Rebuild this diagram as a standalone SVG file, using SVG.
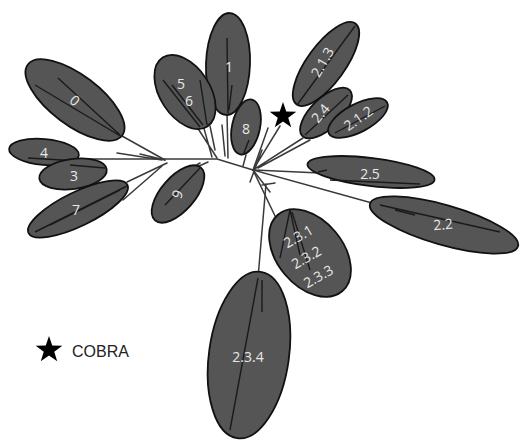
<svg xmlns="http://www.w3.org/2000/svg" width="522" height="441" viewBox="0 0 522 441">
<style>
.cl ellipse{fill:#555;stroke:#111;stroke-width:1.8}
.lf{stroke:#1a1a1a;stroke-width:1.4;fill:none}
.br{stroke:#3a3a3a;stroke-width:1.5;fill:none;stroke-linecap:round}
.lb{font-family:"Open Sans","Noto Sans",sans-serif;font-size:14px;fill:#e8e8e8;text-anchor:middle;dominant-baseline:central}
.lg{font-family:"Liberation Sans",Arial,sans-serif;font-size:16px;fill:#222}
</style>
<defs>
<path id="star" d="M0,-14 L3.23,-4.45 L13.31,-4.33 L5.23,1.7 L8.23,11.33 L0,5.5 L-8.23,11.33 L-5.23,1.7 L-13.31,-4.33 L-3.23,-4.45 Z" fill="#000"/>
</defs>
<rect width="522" height="441" fill="#fff"/>
<g id="connectors" class="br">
<path d="M80,159 L217,159 L253,170"/>
<path d="M165,160 L122,136"/>
<path d="M117,153 L162,160 M140,154 L165,160"/>
<path d="M167,163 L127,182 M162,166 L123,200"/>
<path d="M200,163 L167,183 M208,162 L197,167"/>
<path d="M217,158 L197,127 M212,157 L203,125 M215,150 L210,126"/>
<path d="M228,158 L227,113 M225,156 L222,125"/>
<path d="M243,166 L246,155"/>
<path d="M253,170 L268,128 M250,182 L262,150 M253,170 L280,126"/>
<path d="M253,170 L303,138 M258,168 L310,140"/>
<path d="M253,170 L320,173"/>
<path d="M253,170 L372,203"/>
<path d="M253,170 L270,192 M262,185 L275,183"/>
<path d="M253,170 L276,218"/>
<path d="M266,184 L258,278"/>
</g>
<g id="n0" class="cl"><ellipse cx="75" cy="100" rx="59" ry="25" transform="rotate(37 75 100)"/><path class="lf" d="M35,85 L122,137 M58,78 L120,135"/><text class="lb" x="75" y="100" transform="rotate(40 75 100)">0</text></g>
<g id="n1" class="cl"><ellipse cx="228" cy="64" rx="22" ry="51" transform="rotate(2 228 64)"/><path class="lf" d="M227,38 L228,113 M232,85 L229,110"/><text class="lb" x="229" y="66">1</text></g>
<g id="n56" class="cl"><ellipse cx="185" cy="92" rx="41" ry="25" transform="rotate(57 185 92)"/><path class="lf" d="M163,80 L200,127 M172,85 L203,125 M200,80 L207,125"/><text class="lb" x="181" y="83">5</text><text class="lb" x="189" y="100">6</text></g>
<g id="n8" class="cl"><ellipse cx="246" cy="127" rx="14" ry="28" transform="rotate(12 246 127)"/><path class="lf" d="M249,140 L243,155"/><text class="lb" x="246" y="128">8</text></g>
<g id="n4" class="cl"><ellipse cx="44" cy="152" rx="35" ry="13" transform="rotate(5 44 152)"/><path class="lf" d="M28,158 L78,161"/><text class="lb" x="44" y="152">4</text></g>
<g id="n3" class="cl"><ellipse cx="73" cy="174" rx="34" ry="15" transform="rotate(-8 73 174)"/><path class="lf" d="M70,165 L105,168"/><text class="lb" x="74" y="175">3</text></g>
<g id="n7" class="cl"><ellipse cx="78" cy="209" rx="55" ry="17" transform="rotate(-26 78 209)"/><path class="lf" d="M35,232 L127,186 M50,225 L120,190"/><text class="lb" x="76" y="209">7</text></g>
<g id="n9" class="cl"><ellipse cx="178" cy="194" rx="35" ry="17" transform="rotate(-49 178 194)"/><path class="lf" d="M165,205 L200,168"/><text class="lb" x="177" y="194" transform="rotate(-70 177 194)">9</text></g>
<g id="n213" class="cl"><ellipse cx="326" cy="64" rx="50" ry="19" transform="rotate(-54 326 64)"/><path class="lf" d="M297,105 L355,26"/><text class="lb" x="322" y="62" transform="rotate(-60 322 62)">2.1.3</text></g>
<g id="n24" class="cl"><ellipse cx="326" cy="113" rx="33" ry="15" transform="rotate(-44 326 113)"/><path class="lf" d="M305,135 L348,95"/><text class="lb" x="320" y="113" transform="rotate(-50 320 113)">2.4</text></g>
<g id="n212" class="cl"><ellipse cx="358" cy="118" rx="33" ry="14" transform="rotate(-28 358 118)"/><path class="lf" d="M335,133 L385,106"/><text class="lb" x="358" y="118" transform="rotate(-35 358 118)">2.1.2</text></g>
<g id="n25" class="cl"><ellipse cx="371" cy="172" rx="64" ry="14" transform="rotate(7 371 172)"/><path class="lf" d="M318,172 L327,170 M330,180 L420,184"/><text class="lb" x="370" y="173">2.5</text></g>
<g id="n22" class="cl"><ellipse cx="444" cy="225" rx="77" ry="20" transform="rotate(16 444 225)"/><path class="lf" d="M380,205 L500,232 M395,210 L415,215"/><text class="lb" x="443" y="224" transform="rotate(-5 443 224)">2.2</text></g>
<g id="n23" class="cl"><ellipse cx="310" cy="253" rx="50" ry="33" transform="rotate(50 310 253)"/><path class="lf" d="M290,210 L280,258 M290,210 L300,255 M292,212 L310,270"/><text class="lb" x="298" y="236" transform="rotate(-30 298 236)">2.3.1</text><text class="lb" x="306" y="257" transform="rotate(-30 306 257)">2.3.2</text><text class="lb" x="318" y="276" transform="rotate(-30 318 276)">2.3.3</text></g>
<g id="n234" class="cl"><ellipse cx="249" cy="355" rx="40" ry="84" transform="rotate(8 249 355)"/><path class="lf" d="M258,278 L230,430 M262,280 L262,312"/><text class="lb" x="248" y="356">2.3.4</text></g>
<g id="cobra-star"><use href="#star" x="283" y="116"/></g>
<g id="legend"><use href="#star" x="49" y="350"/><text class="lg" x="72" y="357">COBRA</text></g>
</svg>
